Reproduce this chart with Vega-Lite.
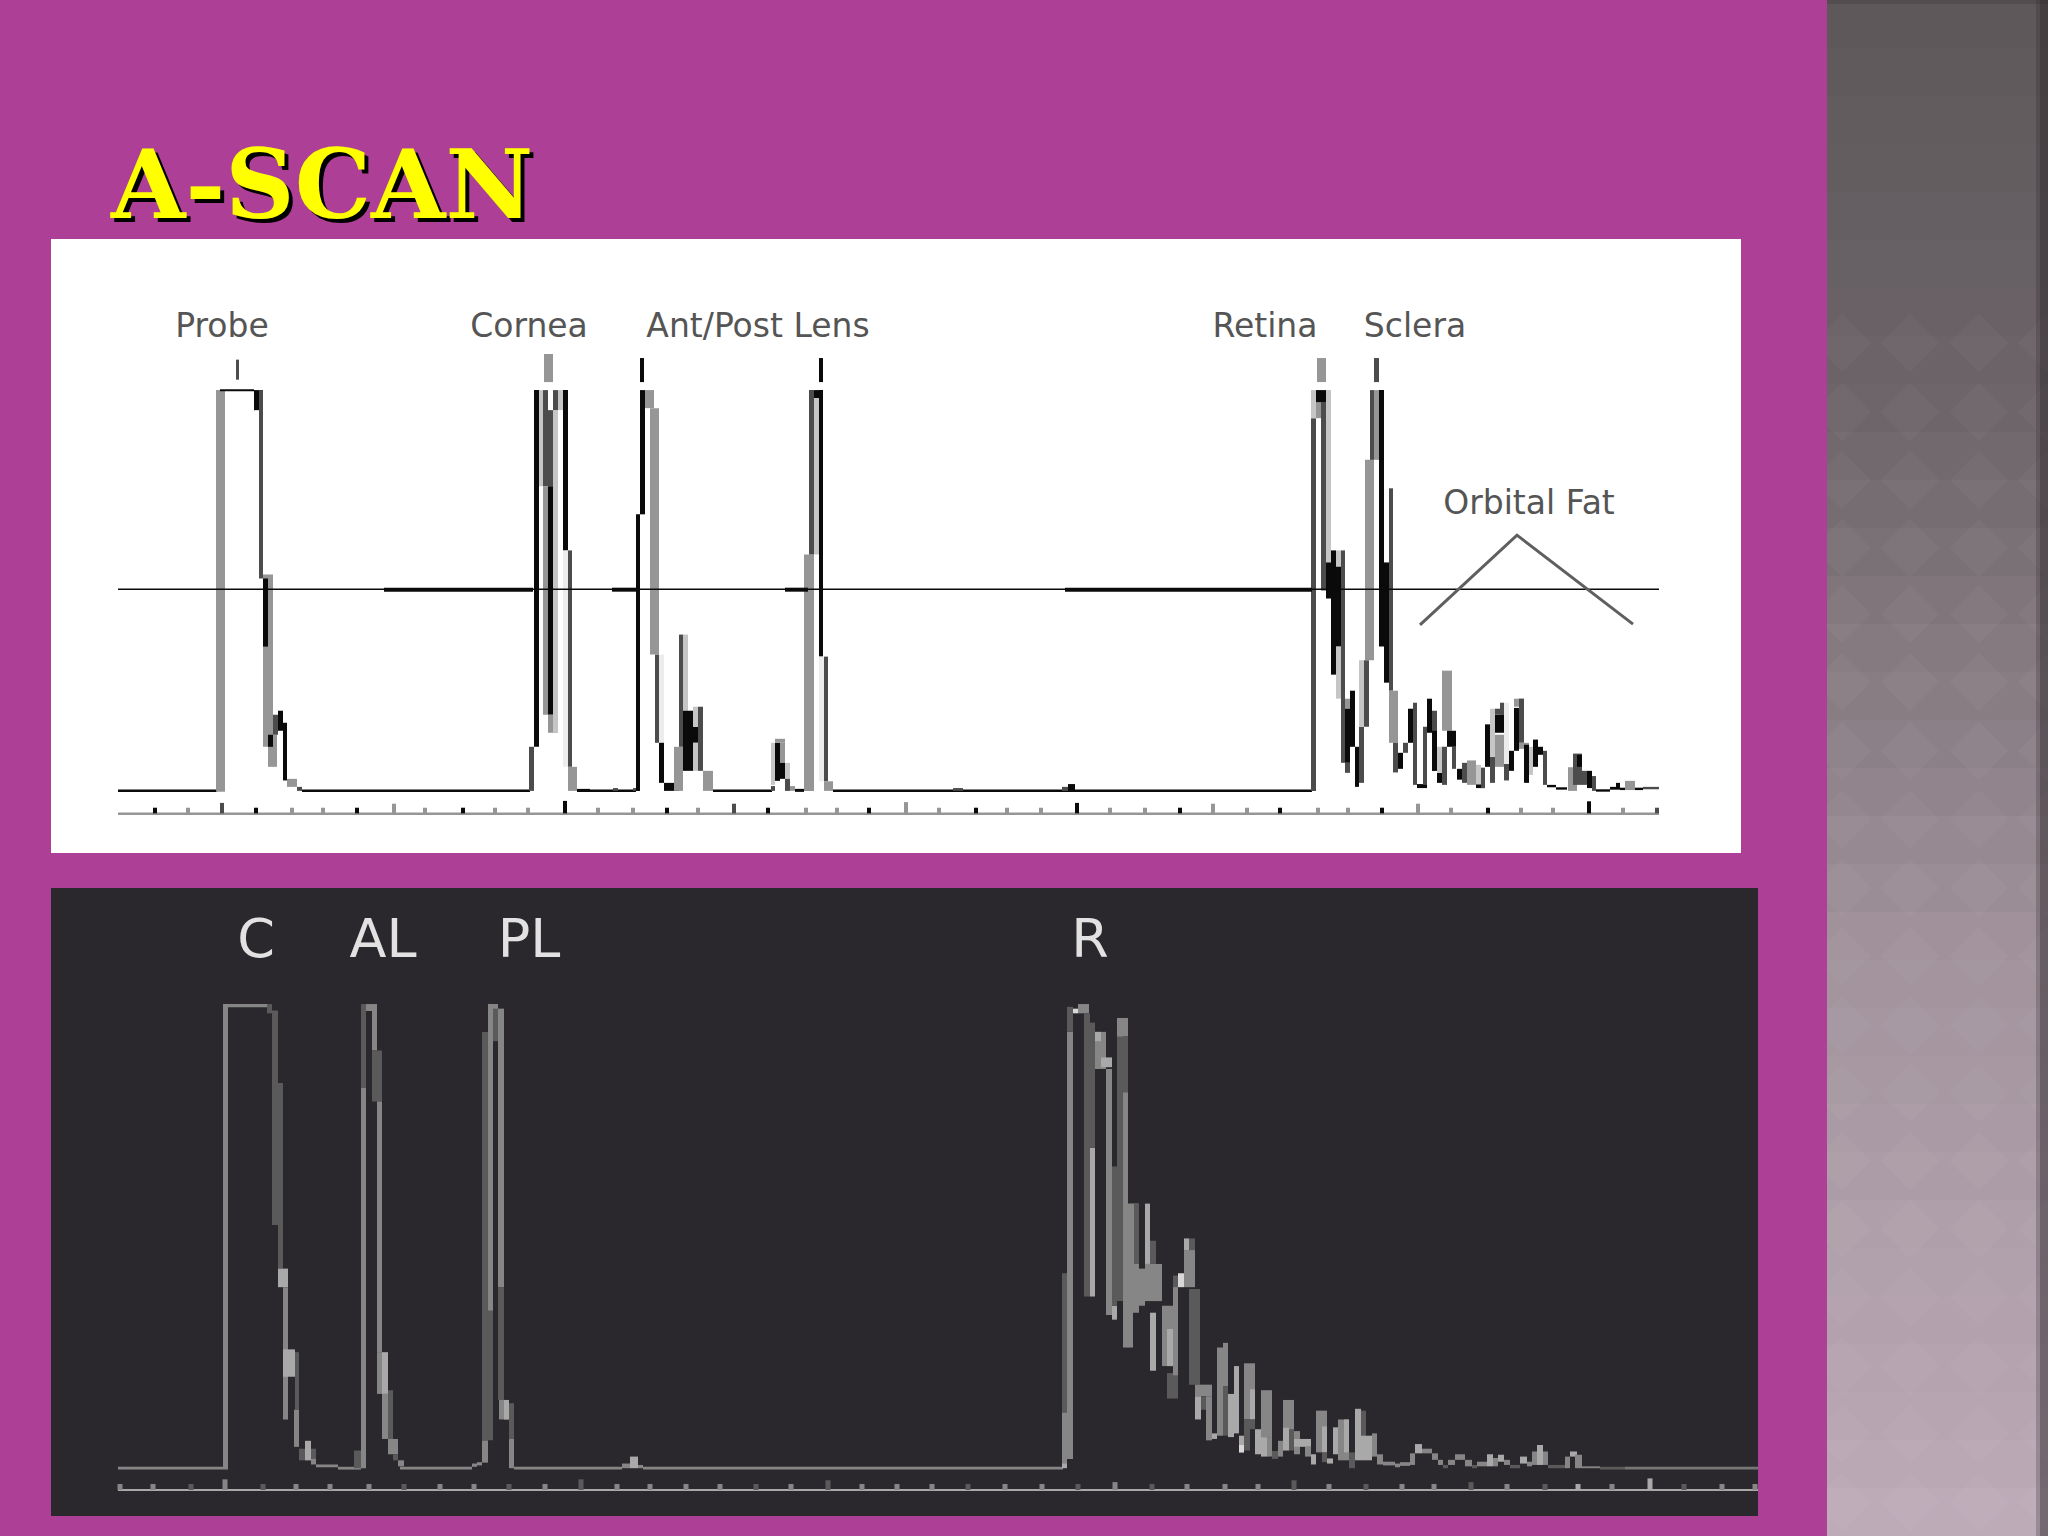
{
"$schema":"https://vega.github.io/schema/vega-lite/v6.json",
"background":"#ae3f96",
"padding":{"left":51,"top":0,"right":0,"bottom":0},
"config":{"view":{"stroke":null}},
"resolve":{"scale":{"color":"independent","opacity":"independent"}},
"spacing":69,
"hconcat":[
{"bounds":"flush","spacing":35,"resolve":{"scale":{"color":"independent"}},"vconcat":[
 {"width":1707,"height":204,"data":{"values":[{"x":111,"p":204,"t":"A-SCAN"}]},
  "encoding":{"x":{"field":"x","type":"quantitative","axis":null,"scale":{"domain":[51,1758],"nice":false,"zero":false}},
   "y":{"field":"p","type":"quantitative","axis":null,"scale":{"domain":[0,204],"reverse":true,"nice":false}},"text":{"field":"t"}},
  "layer":[
   {"mark":{"type":"text","font":"DejaVu Serif","fontWeight":"bold","fontSize":96,"align":"left","baseline":"alphabetic","dx":4,"dy":18,"color":"#000000"}},
   {"mark":{"type":"text","font":"DejaVu Serif","fontWeight":"bold","fontSize":96,"align":"left","baseline":"alphabetic","dy":14,"color":"#ffff00"}}
  ]},
 {"width":1690,"height":614,"view":{"fill":"#ffffff","stroke":null},
  "layer":[
   {"data":{"values":[
{"x":118,"x2":217,"a":-0.25,"a2":0.35,"s":"k"},{"x":302,"x2":530,"a":-0.25,"a2":0.35,"s":"k"},{"x":577,"x2":636,"a":-0.25,"a2":0.35,"s":"k"},{"x":613,"x2":618,"a":0,"a2":0.7,"s":"d"},{"x":633,"x2":637,"a":0,"a2":0.7,"s":"d"},{"x":713,"x2":772,"a":-0.25,"a2":0.35,"s":"k"},{"x":795,"x2":804,"a":-0.25,"a2":0.5,"s":"k"},{"x":833,"x2":1312,"a":-0.25,"a2":0.35,"s":"k"},{"x":953,"x2":963,"a":0,"a2":0.7,"s":"d"},{"x":1062,"x2":1070,"a":0,"a2":1,"s":"d"},{"x":1068,"x2":1075,"a":0,"a2":1.7,"s":"k"},
{"x":216,"x2":225,"a":-0.2,"a2":100,"s":"m"},{"x":220,"x2":254,"a":99.7,"a2":100.2,"s":"k"},{"x":254,"x2":263,"a":95,"a2":100,"s":"k"},{"x":259,"x2":263,"a":53,"a2":100,"s":"d"},{"x":263,"x2":273,"a":11,"a2":54,"s":"m"},{"x":263,"x2":268,"a":36,"a2":53,"s":"k"},{"x":268,"x2":277,"a":6,"a2":14,"s":"m"},{"x":268,"x2":273,"a":11,"a2":14,"s":"k"},{"x":273,"x2":278,"a":14,"a2":19,"s":"d"},{"x":278,"x2":283,"a":15,"a2":20,"s":"k"},{"x":283,"x2":287,"a":2.6,"a2":17,"s":"k"},{"x":287,"x2":297,"a":1,"a2":3,"s":"m"},{"x":297,"x2":302,"a":0,"a2":1,"s":"d"},
{"x":529,"x2":534,"a":0,"a2":11,"s":"d"},{"x":534,"x2":539,"a":11,"a2":100,"s":"k"},{"x":539,"x2":543,"a":76,"a2":100,"s":"l"},{"x":543,"x2":548,"a":76,"a2":100,"s":"d"},{"x":543,"x2":548,"a":19,"a2":76,"s":"m"},{"x":548,"x2":553,"a":76,"a2":95,"s":"d"},{"x":548,"x2":553,"a":19,"a2":76,"s":"k"},{"x":548,"x2":558,"a":14.5,"a2":19,"s":"m"},{"x":553,"x2":558,"a":14.5,"a2":95,"s":"l"},{"x":553,"x2":558,"a":95,"a2":100,"s":"d"},{"x":558,"x2":563,"a":95,"a2":100,"s":"l"},{"x":563,"x2":568,"a":60,"a2":100,"s":"k"},{"x":563,"x2":568,"a":6,"a2":60,"s":"p"},{"x":568,"x2":572,"a":6,"a2":60,"s":"d"},{"x":568,"x2":577,"a":0,"a2":6,"s":"m"},{"x":577,"x2":590,"a":0,"a2":0.5,"s":"k"},
{"x":636,"x2":640,"a":0,"a2":69,"s":"k"},{"x":640,"x2":645,"a":69,"a2":100,"s":"k"},{"x":645,"x2":654,"a":95.5,"a2":100,"s":"m"},{"x":650,"x2":659,"a":34,"a2":95.5,"s":"m"},{"x":655,"x2":659,"a":12,"a2":34,"s":"d"},{"x":659,"x2":664,"a":12,"a2":34,"s":"p"},{"x":659,"x2":664,"a":2,"a2":12,"s":"k"},{"x":664,"x2":679,"a":0,"a2":2,"s":"k"},{"x":674,"x2":683,"a":0,"a2":11,"s":"m"},{"x":679,"x2":683,"a":11,"a2":39,"s":"d"},{"x":683,"x2":688,"a":20,"a2":39,"s":"l"},{"x":683,"x2":693,"a":5,"a2":20,"s":"k"},{"x":693,"x2":698,"a":12,"a2":16,"s":"k"},{"x":693,"x2":698,"a":16,"a2":21,"s":"l"},{"x":693,"x2":698,"a":5,"a2":12,"s":"l"},{"x":698,"x2":703,"a":5,"a2":21,"s":"d"},{"x":703,"x2":713,"a":0,"a2":5,"s":"m"},
{"x":771,"x2":775,"a":0,"a2":1.2,"s":"d"},{"x":771,"x2":775,"a":1.5,"a2":12,"s":"l"},{"x":775,"x2":780,"a":2.5,"a2":12,"s":"k"},{"x":775,"x2":785,"a":12,"a2":13,"s":"m"},{"x":780,"x2":785,"a":7,"a2":12,"s":"m"},{"x":780,"x2":785,"a":3,"a2":7,"s":"k"},{"x":785,"x2":790,"a":3,"a2":7,"s":"l"},{"x":785,"x2":790,"a":0,"a2":3,"s":"d"},{"x":790,"x2":795,"a":0,"a2":1.2,"s":"m"},
{"x":804,"x2":814,"a":0,"a2":59,"s":"m"},{"x":809,"x2":814,"a":59,"a2":100,"s":"d"},{"x":814,"x2":819,"a":98,"a2":100,"s":"k"},{"x":814,"x2":819,"a":59,"a2":98,"s":"l"},{"x":819,"x2":823,"a":33.5,"a2":100,"s":"k"},{"x":819,"x2":824,"a":2.4,"a2":33.5,"s":"p"},{"x":824,"x2":828,"a":2.4,"a2":33.5,"s":"d"},{"x":824,"x2":833,"a":0,"a2":2.4,"s":"m"},
{"x":1311,"x2":1316,"a":0,"a2":93,"s":"d"},{"x":1311,"x2":1316,"a":93,"a2":100,"s":"l"},{"x":1316,"x2":1321,"a":93,"a2":100,"s":"m"},{"x":1316,"x2":1326,"a":97,"a2":100,"s":"k"},{"x":1321,"x2":1326,"a":50,"a2":97,"s":"d"},{"x":1326,"x2":1331,"a":57,"a2":100,"s":"l"},{"x":1326,"x2":1331,"a":48,"a2":57,"s":"k"},{"x":1331,"x2":1336,"a":29,"a2":60,"s":"k"},{"x":1336,"x2":1341,"a":36,"a2":56,"s":"k"},{"x":1336,"x2":1341,"a":56,"a2":60,"s":"l"},{"x":1336,"x2":1341,"a":23,"a2":36,"s":"l"},{"x":1341,"x2":1345,"a":7,"a2":60,"s":"d"},{"x":1345,"x2":1350,"a":20.5,"a2":23,"s":"m"},{"x":1345,"x2":1350,"a":7,"a2":20.5,"s":"k"},{"x":1345,"x2":1350,"a":4.5,"a2":7,"s":"d"},{"x":1350,"x2":1355,"a":11,"a2":25,"s":"k"},{"x":1355,"x2":1359,"a":1,"a2":11,"s":"k"},{"x":1359,"x2":1364,"a":2,"a2":16,"s":"d"},{"x":1359,"x2":1364,"a":16,"a2":32.6,"s":"l"},{"x":1364,"x2":1369,"a":16,"a2":32.6,"s":"d"},{"x":1365,"x2":1374,"a":32.6,"a2":82.6,"s":"m"},{"x":1370,"x2":1374,"a":82.6,"a2":100,"s":"d"},{"x":1374,"x2":1379,"a":82.6,"a2":100,"s":"m"},{"x":1379,"x2":1384,"a":36,"a2":100,"s":"k"},{"x":1384,"x2":1389,"a":27,"a2":57,"s":"k"},{"x":1389,"x2":1393,"a":25,"a2":75.5,"s":"d"},{"x":1389,"x2":1398,"a":12,"a2":25,"s":"m"},{"x":1393,"x2":1398,"a":4.6,"a2":12,"s":"d"},{"x":1398,"x2":1403,"a":5.5,"a2":9.5,"s":"k"},{"x":1403,"x2":1408,"a":9.5,"a2":12,"s":"d"},{"x":1408,"x2":1413,"a":12,"a2":20.5,"s":"k"},{"x":1413,"x2":1417,"a":1.5,"a2":22,"s":"d"},{"x":1417,"x2":1427,"a":0.7,"a2":1.7,"s":"k"},{"x":1423,"x2":1427,"a":1.5,"a2":16,"s":"d"},{"x":1427,"x2":1432,"a":14.5,"a2":23,"s":"k"},{"x":1432,"x2":1437,"a":5,"a2":20,"s":"d"},{"x":1432,"x2":1437,"a":5,"a2":15,"s":"k"},{"x":1437,"x2":1442,"a":2,"a2":4.5,"s":"k"},{"x":1437,"x2":1447,"a":4.5,"a2":11,"s":"l"},{"x":1442,"x2":1447,"a":1.5,"a2":11,"s":"d"},{"x":1442,"x2":1452,"a":15,"a2":30,"s":"m"},{"x":1447,"x2":1456,"a":11,"a2":15,"s":"k"},{"x":1452,"x2":1456,"a":5.5,"a2":11,"s":"d"},{"x":1457,"x2":1462,"a":2.8,"a2":5.5,"s":"k"},{"x":1462,"x2":1467,"a":2,"a2":7,"s":"d"},{"x":1467,"x2":1476,"a":1.5,"a2":7.6,"s":"m"},{"x":1476,"x2":1481,"a":1.5,"a2":6.5,"s":"l"},{"x":1476,"x2":1485,"a":0.7,"a2":1.6,"s":"k"},{"x":1481,"x2":1485,"a":0.7,"a2":5.8,"s":"d"},{"x":1485,"x2":1490,"a":6,"a2":16.6,"s":"k"},{"x":1490,"x2":1495,"a":2,"a2":8.5,"s":"d"},{"x":1490,"x2":1495,"a":8.5,"a2":20.5,"s":"l"},{"x":1495,"x2":1504,"a":6,"a2":14,"s":"m"},{"x":1495,"x2":1504,"a":14.5,"a2":19,"s":"k"},{"x":1495,"x2":1504,"a":19,"a2":20.5,"s":"d"},{"x":1500,"x2":1504,"a":19,"a2":22,"s":"d"},{"x":1504,"x2":1509,"a":6.7,"a2":22,"s":"p"},{"x":1504,"x2":1509,"a":2.6,"a2":6.7,"s":"d"},{"x":1509,"x2":1514,"a":5,"a2":10,"s":"k"},{"x":1514,"x2":1519,"a":10,"a2":20.7,"s":"k"},{"x":1514,"x2":1524,"a":21,"a2":23,"s":"m"},{"x":1519,"x2":1524,"a":12,"a2":23,"s":"d"},{"x":1519,"x2":1529,"a":10.5,"a2":12,"s":"m"},{"x":1524,"x2":1529,"a":2,"a2":11.5,"s":"k"},{"x":1529,"x2":1533,"a":4,"a2":11,"s":"l"},{"x":1533,"x2":1538,"a":6,"a2":12.8,"s":"k"},{"x":1538,"x2":1543,"a":9,"a2":11,"s":"k"},{"x":1543,"x2":1547,"a":1.5,"a2":10,"s":"d"},{"x":1547,"x2":1556,"a":0.9,"a2":1.5,"s":"k"},{"x":1556,"x2":1567,"a":0.3,"a2":0.9,"s":"k"},{"x":1568,"x2":1577,"a":0,"a2":5.9,"s":"m"},{"x":1573,"x2":1582,"a":1.5,"a2":9.3,"s":"d"},{"x":1577,"x2":1582,"a":6,"a2":9,"s":"k"},{"x":1582,"x2":1587,"a":1.5,"a2":5,"s":"d"},{"x":1587,"x2":1592,"a":0.7,"a2":5,"s":"k"},{"x":1592,"x2":1596,"a":0,"a2":3.7,"s":"d"},{"x":1596,"x2":1610,"a":-0.2,"a2":0.4,"s":"k"},{"x":1610,"x2":1616,"a":0.3,"a2":1,"s":"k"},{"x":1616,"x2":1620,"a":0.3,"a2":2,"s":"k"},{"x":1620,"x2":1625,"a":0.2,"a2":0.8,"s":"k"},{"x":1625,"x2":1635,"a":0.2,"a2":2.5,"s":"m"},{"x":1635,"x2":1643,"a":0.2,"a2":0.8,"s":"k"},{"x":1643,"x2":1659,"a":0.4,"a2":1,"s":"d"},
{"x":236,"x2":239,"a":102.6,"a2":107.6,"s":"d"},{"x":544,"x2":553,"a":102,"a2":109,"s":"m"},{"x":640,"x2":644,"a":102,"a2":108,"s":"k"},{"x":819,"x2":823,"a":102,"a2":108,"s":"k"},{"x":1317,"x2":1326,"a":102,"a2":108,"s":"m"},{"x":1374,"x2":1379,"a":102,"a2":108,"s":"d"},
{"x":118,"x2":1659,"a":50.1,"a2":50.5,"s":"k"},{"x":384,"x2":533,"a":49.7,"a2":50.7,"s":"k"},{"x":612,"x2":636,"a":49.7,"a2":50.7,"s":"k"},{"x":785,"x2":808,"a":49.7,"a2":50.7,"s":"k"},{"x":1065,"x2":1312,"a":49.7,"a2":50.7,"s":"k"},
{"x":118,"x2":1659,"a":-6,"a2":-5.4,"s":"m"}
]},"mark":{"type":"rect","strokeWidth":0},
"encoding":{"x":{"field":"x","type":"quantitative","axis":null,"scale":{"domain":[51,1741],"nice":false,"zero":false}},"x2":{"field":"x2"},
"y":{"field":"a","type":"quantitative","axis":null,"scale":{"domain":[-15.5,137.7],"nice":false,"zero":false}},"y2":{"field":"a2"},
"color":{"field":"s","type":"nominal","legend":null,"scale":{"domain":["k","d","m","l","p"],"range":["#0a0a0a","#4c4c4c","#969696","#c6c6c6","#ececec"]}}}},
   {"data":{"values":[
{"x":155,"b":-5.6,"a":-4.2,"s":"k"},{"x":188,"b":-5.6,"a":-4.2,"s":"m"},{"x":222,"b":-5.6,"a":-3,"s":"d"},{"x":256,"b":-5.6,"a":-4.2,"s":"k"},{"x":292,"b":-5.6,"a":-4.2,"s":"m"},{"x":323,"b":-5.6,"a":-4.2,"s":"m"},{"x":357,"b":-5.6,"a":-4.2,"s":"k"},{"x":394,"b":-5.6,"a":-3.2,"s":"m"},{"x":425,"b":-5.6,"a":-4.2,"s":"m"},{"x":463,"b":-5.6,"a":-4.2,"s":"k"},{"x":495,"b":-5.6,"a":-4.2,"s":"m"},{"x":528,"b":-5.6,"a":-4.2,"s":"m"},{"x":565,"b":-5.6,"a":-2.5,"s":"k"},{"x":598,"b":-5.6,"a":-4.2,"s":"m"},{"x":633,"b":-5.6,"a":-4.2,"s":"m"},{"x":667,"b":-5.6,"a":-4.2,"s":"k"},{"x":698,"b":-5.6,"a":-4.2,"s":"m"},{"x":734,"b":-5.6,"a":-3.2,"s":"d"},{"x":768,"b":-5.6,"a":-4.2,"s":"k"},{"x":806,"b":-5.6,"a":-4.2,"s":"m"},{"x":837,"b":-5.6,"a":-4.2,"s":"m"},{"x":869,"b":-5.6,"a":-4.2,"s":"k"},{"x":906,"b":-5.6,"a":-2.8,"s":"m"},{"x":939,"b":-5.6,"a":-4.2,"s":"m"},{"x":976,"b":-5.6,"a":-4.2,"s":"k"},{"x":1007,"b":-5.6,"a":-4.2,"s":"m"},{"x":1041,"b":-5.6,"a":-4.2,"s":"m"},{"x":1077,"b":-5.6,"a":-3,"s":"k"},{"x":1110,"b":-5.6,"a":-4.2,"s":"m"},{"x":1145,"b":-5.6,"a":-4.2,"s":"m"},{"x":1180,"b":-5.6,"a":-4.2,"s":"k"},{"x":1213,"b":-5.6,"a":-3.2,"s":"m"},{"x":1247,"b":-5.6,"a":-4.2,"s":"m"},{"x":1280,"b":-5.6,"a":-4.2,"s":"k"},{"x":1318,"b":-5.6,"a":-4.2,"s":"m"},{"x":1348,"b":-5.6,"a":-4.2,"s":"m"},{"x":1382,"b":-5.6,"a":-4.2,"s":"k"},{"x":1418,"b":-5.6,"a":-3.2,"s":"m"},{"x":1451,"b":-5.6,"a":-4.2,"s":"m"},{"x":1488,"b":-5.6,"a":-4.2,"s":"k"},{"x":1521,"b":-5.6,"a":-4.2,"s":"m"},{"x":1553,"b":-5.6,"a":-4.2,"s":"m"},{"x":1589,"b":-5.6,"a":-2.6,"s":"k"},{"x":1623,"b":-5.6,"a":-4.2,"s":"m"},{"x":1657,"b":-5.6,"a":-4.2,"s":"d"}
]},"mark":{"type":"rule","strokeWidth":4},
"encoding":{"x":{"field":"x","type":"quantitative"},"y":{"field":"b","type":"quantitative"},"y2":{"field":"a"},"color":{"field":"s","type":"nominal","legend":null}}},
   {"data":{"values":[{"x":1420,"a":41.4},{"x":1517,"a":63.8},{"x":1633,"a":41.6}]},"mark":{"type":"line","color":"#5f5f5f","strokeWidth":3},
"encoding":{"x":{"field":"x","type":"quantitative"},"y":{"field":"a","type":"quantitative"}}},
   {"data":{"values":[{"x":222,"a":115.7,"t":"Probe"},{"x":529,"a":115.7,"t":"Cornea"},{"x":758,"a":115.7,"t":"Ant/Post Lens"},{"x":1265,"a":115.7,"t":"Retina"},{"x":1415,"a":115.7,"t":"Sclera"},{"x":1529,"a":71.6,"t":"Orbital Fat"}]},
"mark":{"type":"text","font":"DejaVu Sans","fontSize":33,"align":"center","baseline":"middle","color":"#555555"},
"encoding":{"x":{"field":"x","type":"quantitative"},"y":{"field":"a","type":"quantitative"},"text":{"field":"t"}}}
  ]},
 {"width":1707,"height":628,"view":{"fill":"#2a282c","stroke":null},
  "layer":[
   {"data":{"values":[
{"x":118,"x2":223,"a":-0.3,"a2":0.3,"s":"m"},{"x":223,"x2":228,"a":-0.3,"a2":100,"s":"m"},{"x":228,"x2":268,"a":99.3,"a2":100,"s":"m"},{"x":267,"x2":272,"a":98,"a2":100,"s":"d"},{"x":272,"x2":278,"a":52.4,"a2":98.6,"s":"d"},{"x":278,"x2":283,"a":43,"a2":83,"s":"d"},{"x":278,"x2":288,"a":39,"a2":43,"s":"l"},{"x":283,"x2":288,"a":10.5,"a2":39,"s":"m"},{"x":283,"x2":295,"a":19.7,"a2":25.6,"s":"l"},{"x":295,"x2":299,"a":12.6,"a2":25,"s":"d"},{"x":294,"x2":299,"a":4.6,"a2":12.6,"s":"m"},{"x":299,"x2":316,"a":1.7,"a2":4.2,"s":"d"},{"x":305,"x2":311,"a":1.7,"a2":5.9,"s":"l"},{"x":311,"x2":316,"a":0.8,"a2":2,"s":"m"},{"x":316,"x2":338,"a":0.2,"a2":0.8,"s":"m"},{"x":338,"x2":361,"a":-0.3,"a2":0.3,"s":"m"},
{"x":354,"x2":361,"a":0,"a2":3.8,"s":"d"},{"x":361,"x2":366,"a":0,"a2":82,"s":"m"},{"x":361,"x2":366,"a":82,"a2":100,"s":"d"},{"x":366,"x2":377,"a":98.5,"a2":100,"s":"m"},{"x":372,"x2":377,"a":90,"a2":99,"s":"m"},{"x":372,"x2":382,"a":79,"a2":90,"s":"d"},{"x":377,"x2":382,"a":25,"a2":79,"s":"m"},{"x":377,"x2":382,"a":16,"a2":25,"s":"m"},{"x":382,"x2":388,"a":16,"a2":25,"s":"l"},{"x":382,"x2":388,"a":6.3,"a2":16,"s":"m"},{"x":388,"x2":393,"a":4.2,"a2":16.8,"s":"d"},{"x":388,"x2":398,"a":3,"a2":6.3,"s":"m"},{"x":393,"x2":398,"a":1.7,"a2":3,"s":"d"},{"x":398,"x2":404,"a":0.4,"a2":1.7,"s":"m"},{"x":400,"x2":472,"a":-0.3,"a2":0.3,"s":"m"},{"x":472,"x2":477,"a":0.3,"a2":1,"s":"m"},{"x":477,"x2":482,"a":0.6,"a2":1.3,"s":"m"},
{"x":482,"x2":488,"a":1.2,"a2":6,"s":"m"},{"x":482,"x2":493,"a":6,"a2":94,"s":"d"},{"x":488,"x2":493,"a":34,"a2":100,"s":"m"},{"x":493,"x2":498,"a":98.5,"a2":100,"s":"m"},{"x":493,"x2":504,"a":92,"a2":99,"s":"d"},{"x":498,"x2":504,"a":39,"a2":99,"s":"m"},{"x":498,"x2":504,"a":14.7,"a2":39,"s":"d"},{"x":499,"x2":509,"a":10.5,"a2":14.7,"s":"m"},{"x":504,"x2":509,"a":10.5,"a2":14.7,"s":"l"},{"x":509,"x2":514,"a":6.3,"a2":14,"s":"d"},{"x":509,"x2":514,"a":0,"a2":6.3,"s":"m"},{"x":514,"x2":622,"a":-0.3,"a2":0.3,"s":"m"},{"x":622,"x2":630,"a":0,"a2":1,"s":"m"},{"x":630,"x2":638,"a":0,"a2":2.5,"s":"l"},{"x":638,"x2":643,"a":0,"a2":0.7,"s":"m"},{"x":643,"x2":1063,"a":-0.3,"a2":0.3,"s":"m"},
{"x":1062,"x2":1067,"a":12,"a2":42,"s":"d"},{"x":1062,"x2":1067,"a":0.8,"a2":12,"s":"m"},{"x":1062,"x2":1067,"a":0,"a2":1,"s":"l"},{"x":1067,"x2":1073,"a":2,"a2":94,"s":"m"},{"x":1067,"x2":1073,"a":94,"a2":99.4,"s":"d"},{"x":1073,"x2":1078,"a":98,"a2":99,"s":"w"},{"x":1078,"x2":1089,"a":98,"a2":100,"s":"m"},{"x":1084,"x2":1090,"a":37,"a2":98,"s":"d"},{"x":1090,"x2":1095,"a":37,"a2":69,"s":"l"},{"x":1090,"x2":1095,"a":69,"a2":96,"s":"d"},{"x":1095,"x2":1106,"a":86,"a2":94,"s":"m"},{"x":1095,"x2":1101,"a":92,"a2":94,"s":"l"},{"x":1101,"x2":1112,"a":86.4,"a2":88.5,"s":"l"},{"x":1106,"x2":1112,"a":33,"a2":86,"s":"m"},{"x":1112,"x2":1117,"a":32,"a2":35,"s":"l"},{"x":1112,"x2":1117,"a":35,"a2":65,"s":"d"},{"x":1117,"x2":1123,"a":36,"a2":97,"s":"d"},{"x":1117,"x2":1128,"a":93,"a2":97,"s":"m"},{"x":1123,"x2":1128,"a":81,"a2":93,"s":"d"},{"x":1123,"x2":1128,"a":41.5,"a2":81,"s":"m"},{"x":1123,"x2":1133,"a":26,"a2":43,"s":"m"},{"x":1128,"x2":1139,"a":33.5,"a2":57,"s":"m"},{"x":1134,"x2":1139,"a":44,"a2":57,"s":"d"},{"x":1139,"x2":1145,"a":35,"a2":43,"s":"m"},{"x":1145,"x2":1150,"a":44,"a2":57,"s":"l"},{"x":1150,"x2":1156,"a":44,"a2":49,"s":"d"},{"x":1145,"x2":1162,"a":36,"a2":44,"s":"m"},{"x":1150,"x2":1156,"a":21,"a2":33.5,"s":"l"},{"x":1162,"x2":1173,"a":22,"a2":35,"s":"m"},{"x":1167,"x2":1178,"a":22,"a2":30,"s":"l"},{"x":1167,"x2":1178,"a":15,"a2":20.5,"s":"d"},{"x":1173,"x2":1178,"a":35,"a2":41.5,"s":"d"},{"x":1173,"x2":1178,"a":20,"a2":39,"s":"m"},{"x":1178,"x2":1184,"a":39,"a2":42,"s":"w"},{"x":1184,"x2":1195,"a":39,"a2":47,"s":"m"},{"x":1184,"x2":1189,"a":47,"a2":49.5,"s":"l"},{"x":1189,"x2":1195,"a":47,"a2":49.5,"s":"d"},{"x":1189,"x2":1200,"a":18,"a2":38.6,"s":"d"},{"x":1195,"x2":1212,"a":15.5,"a2":18,"s":"m"},{"x":1195,"x2":1201,"a":10.5,"a2":15.5,"s":"l"},{"x":1201,"x2":1206,"a":12.6,"a2":15.5,"s":"d"},{"x":1206,"x2":1212,"a":6,"a2":15.5,"s":"m"},{"x":1212,"x2":1217,"a":6.3,"a2":7.5,"s":"l"},{"x":1217,"x2":1223,"a":7,"a2":26,"s":"m"},{"x":1223,"x2":1228,"a":17.6,"a2":27,"s":"m"},{"x":1223,"x2":1228,"a":7,"a2":17.6,"s":"d"},{"x":1228,"x2":1234,"a":6.7,"a2":16,"s":"l"},{"x":1234,"x2":1239,"a":7.5,"a2":22,"s":"l"},{"x":1239,"x2":1244,"a":3.4,"a2":7,"s":"l"},{"x":1239,"x2":1244,"a":3.4,"a2":5,"s":"w"},{"x":1244,"x2":1255,"a":10.5,"a2":22.6,"s":"m"},{"x":1250,"x2":1255,"a":10.5,"a2":17,"s":"l"},{"x":1244,"x2":1250,"a":3.8,"a2":10.5,"s":"d"},{"x":1250,"x2":1255,"a":8.4,"a2":10.5,"s":"d"},{"x":1255,"x2":1261,"a":3,"a2":8.4,"s":"l"},{"x":1261,"x2":1267,"a":2.5,"a2":6.7,"s":"l"},{"x":1261,"x2":1272,"a":6.7,"a2":16.8,"s":"m"},{"x":1267,"x2":1272,"a":2.5,"a2":6.7,"s":"m"},{"x":1272,"x2":1278,"a":2,"a2":3.7,"s":"d"},{"x":1278,"x2":1283,"a":2.5,"a2":5.9,"s":"m"},{"x":1283,"x2":1294,"a":8,"a2":14.7,"s":"m"},{"x":1283,"x2":1289,"a":3.8,"a2":8.7,"s":"l"},{"x":1289,"x2":1294,"a":3.8,"a2":8.4,"s":"d"},{"x":1294,"x2":1300,"a":3,"a2":8,"s":"m"},{"x":1294,"x2":1311,"a":4.6,"a2":6.3,"s":"l"},{"x":1305,"x2":1311,"a":2.5,"a2":4.6,"s":"m"},{"x":1311,"x2":1316,"a":0.8,"a2":3,"s":"l"},{"x":1316,"x2":1327,"a":3.4,"a2":12.4,"s":"m"},{"x":1322,"x2":1327,"a":3.4,"a2":9,"s":"l"},{"x":1322,"x2":1327,"a":1.3,"a2":3.4,"s":"d"},{"x":1327,"x2":1333,"a":1,"a2":2.1,"s":"l"},{"x":1333,"x2":1338,"a":3,"a2":8.8,"s":"l"},{"x":1338,"x2":1349,"a":1.7,"a2":10.5,"s":"m"},{"x":1344,"x2":1349,"a":3.4,"a2":10.5,"s":"l"},{"x":1349,"x2":1355,"a":0,"a2":3.4,"s":"d"},{"x":1355,"x2":1361,"a":1.7,"a2":12.8,"s":"l"},{"x":1361,"x2":1366,"a":3.4,"a2":12.4,"s":"d"},{"x":1361,"x2":1372,"a":1.7,"a2":7,"s":"l"},{"x":1372,"x2":1377,"a":2.5,"a2":7.5,"s":"m"},{"x":1377,"x2":1383,"a":0.8,"a2":3,"s":"m"},{"x":1383,"x2":1395,"a":0.6,"a2":1.4,"s":"m"},{"x":1395,"x2":1400,"a":0.2,"a2":1,"s":"m"},{"x":1400,"x2":1410,"a":0.5,"a2":1.3,"s":"m"},
{"x":1410,"x2":1415,"a":0.7,"a2":3.2,"s":"m"},{"x":1415,"x2":1422,"a":3.2,"a2":5.2,"s":"l"},{"x":1422,"x2":1432,"a":3.2,"a2":4.2,"s":"m"},{"x":1432,"x2":1438,"a":1.8,"a2":3.2,"s":"m"},{"x":1438,"x2":1443,"a":0.7,"a2":1.8,"s":"m"},{"x":1443,"x2":1448,"a":0,"a2":0.7,"s":"d"},{"x":1448,"x2":1455,"a":0.7,"a2":1.8,"s":"m"},{"x":1455,"x2":1465,"a":1.8,"a2":3,"s":"m"},{"x":1465,"x2":1472,"a":0.4,"a2":1.8,"s":"m"},{"x":1472,"x2":1477,"a":0,"a2":0.7,"s":"d"},{"x":1477,"x2":1487,"a":0.4,"a2":1.4,"s":"m"},{"x":1487,"x2":1493,"a":0.4,"a2":3,"s":"l"},{"x":1493,"x2":1498,"a":0.4,"a2":2.2,"s":"m"},{"x":1498,"x2":1504,"a":1.4,"a2":2.9,"s":"l"},{"x":1504,"x2":1510,"a":0.7,"a2":1.8,"s":"m"},{"x":1510,"x2":1520,"a":0,"a2":0.7,"s":"d"},{"x":1520,"x2":1527,"a":1,"a2":2.5,"s":"l"},{"x":1527,"x2":1532,"a":0.4,"a2":1.4,"s":"m"},{"x":1532,"x2":1537,"a":0.7,"a2":3.6,"s":"m"},{"x":1537,"x2":1543,"a":0.7,"a2":5,"s":"l"},{"x":1543,"x2":1548,"a":0.7,"a2":3.6,"s":"m"},{"x":1548,"x2":1565,"a":0,"a2":0.7,"s":"d"},{"x":1565,"x2":1570,"a":0,"a2":2.5,"s":"m"},{"x":1570,"x2":1577,"a":2.5,"a2":3.6,"s":"l"},{"x":1575,"x2":1582,"a":0,"a2":2.9,"s":"m"},{"x":1582,"x2":1600,"a":0,"a2":0.4,"s":"m"},{"x":1600,"x2":1625,"a":-0.3,"a2":0.3,"s":"d"},{"x":1625,"x2":1758,"a":-0.3,"a2":0.3,"s":"b"},
{"x":118,"x2":1758,"a":-4.9,"a2":-4.5,"s":"l"}
]},"mark":{"type":"rect","strokeWidth":0},
"encoding":{"x":{"field":"x","type":"quantitative","axis":null,"scale":{"domain":[51,1758],"nice":false,"zero":false}},"x2":{"field":"x2"},
"y":{"field":"a","type":"quantitative","axis":null,"scale":{"domain":[-10.3,125],"nice":false,"zero":false}},"y2":{"field":"a2"},
"color":{"field":"s","type":"nominal","legend":null,"scale":{"domain":["d","b","m","l","w"],"range":["#5a5a5a","#777777","#868686","#a9a9a9","#d8d8d8"]}}}},
   {"data":{"values":[
{"x":120,"b":-4.7,"a":-3.4,"s":"m"},{"x":153,"b":-4.7,"a":-3.4,"s":"m"},{"x":191,"b":-4.7,"a":-3.4,"s":"d"},{"x":225,"b":-4.7,"a":-2.4,"s":"m"},{"x":263,"b":-4.7,"a":-3.4,"s":"d"},{"x":296,"b":-4.7,"a":-3.4,"s":"m"},{"x":330,"b":-4.7,"a":-3.4,"s":"m"},{"x":369,"b":-4.7,"a":-3.4,"s":"m"},{"x":404,"b":-4.7,"a":-3.4,"s":"d"},{"x":440,"b":-4.7,"a":-3.4,"s":"m"},{"x":474,"b":-4.7,"a":-3.4,"s":"m"},{"x":509,"b":-4.7,"a":-3.4,"s":"d"},{"x":545,"b":-4.7,"a":-3.4,"s":"m"},{"x":581,"b":-4.7,"a":-2.4,"s":"d"},{"x":617,"b":-4.7,"a":-3.4,"s":"m"},{"x":650,"b":-4.7,"a":-3.4,"s":"m"},{"x":686,"b":-4.7,"a":-3.4,"s":"m"},{"x":720,"b":-4.7,"a":-3.4,"s":"m"},{"x":756,"b":-4.7,"a":-3.4,"s":"d"},{"x":791,"b":-4.7,"a":-3.4,"s":"m"},{"x":828,"b":-4.7,"a":-2.6,"s":"d"},{"x":862,"b":-4.7,"a":-3.4,"s":"m"},{"x":897,"b":-4.7,"a":-3.4,"s":"m"},{"x":932,"b":-4.7,"a":-3.4,"s":"m"},{"x":968,"b":-4.7,"a":-3.4,"s":"d"},{"x":1005,"b":-4.7,"a":-3.4,"s":"m"},{"x":1042,"b":-4.7,"a":-3.4,"s":"m"},{"x":1078,"b":-4.7,"a":-3.4,"s":"d"},{"x":1115,"b":-4.7,"a":-3,"s":"m"},{"x":1152,"b":-4.7,"a":-3.4,"s":"d"},{"x":1187,"b":-4.7,"a":-3.4,"s":"m"},{"x":1225,"b":-4.7,"a":-3.4,"s":"m"},{"x":1258,"b":-4.7,"a":-3.4,"s":"m"},{"x":1294,"b":-4.7,"a":-2.6,"s":"d"},{"x":1329,"b":-4.7,"a":-3.4,"s":"m"},{"x":1366,"b":-4.7,"a":-3.4,"s":"d"},{"x":1402,"b":-4.7,"a":-3.4,"s":"m"},{"x":1434,"b":-4.7,"a":-3.4,"s":"m"},{"x":1471,"b":-4.7,"a":-3,"s":"d"},{"x":1507,"b":-4.7,"a":-3.4,"s":"m"},{"x":1545,"b":-4.7,"a":-3.4,"s":"d"},{"x":1578,"b":-4.7,"a":-3.4,"s":"l"},{"x":1612,"b":-4.7,"a":-3.4,"s":"m"},{"x":1650,"b":-4.7,"a":-2.2,"s":"l"},{"x":1684,"b":-4.7,"a":-3.4,"s":"d"},{"x":1722,"b":-4.7,"a":-3.4,"s":"m"},{"x":1755,"b":-4.7,"a":-3.4,"s":"m"}
]},"mark":{"type":"rule","strokeWidth":5},
"encoding":{"x":{"field":"x","type":"quantitative"},"y":{"field":"b","type":"quantitative"},"y2":{"field":"a"},"color":{"field":"s","type":"nominal","legend":null}}},
   {"data":{"values":[{"x":256,"a":113.6,"t":"C"},{"x":383,"a":113.6,"t":"AL"},{"x":529,"a":113.6,"t":"PL"},{"x":1090,"a":113.6,"t":"R"}]},
"mark":{"type":"text","font":"DejaVu Sans","fontSize":54,"align":"center","baseline":"middle","color":"#e2e2e2"},
"encoding":{"x":{"field":"x","type":"quantitative"},"y":{"field":"a","type":"quantitative"},"text":{"field":"t"}}}
  ]}
]},
{"width":221,"height":1536,
 "encoding":{"x":{"field":"x","type":"quantitative","axis":null,"scale":{"domain":[1827,2048],"nice":false,"zero":false}},
  "y":{"field":"y","type":"quantitative","axis":null,"scale":{"domain":[0,1536],"reverse":true,"nice":false,"zero":false}}},
 "layer":[
  {"data":{"values":[
{"x":1827,"x2":2048,"y":0,"y2":48,"t":0},{"x":1827,"x2":2048,"y":48,"y2":96,"t":0.02},{"x":1827,"x2":2048,"y":96,"y2":144,"t":0.05},{"x":1827,"x2":2048,"y":144,"y2":192,"t":0.06},{"x":1827,"x2":2048,"y":192,"y2":240,"t":0.08},{"x":1827,"x2":2048,"y":240,"y2":288,"t":0.1},{"x":1827,"x2":2048,"y":288,"y2":336,"t":0.12},{"x":1827,"x2":2048,"y":336,"y2":384,"t":0.14},{"x":1827,"x2":2048,"y":384,"y2":432,"t":0.17},{"x":1827,"x2":2048,"y":432,"y2":480,"t":0.22},{"x":1827,"x2":2048,"y":480,"y2":528,"t":0.26},{"x":1827,"x2":2048,"y":528,"y2":576,"t":0.31},{"x":1827,"x2":2048,"y":576,"y2":624,"t":0.36},{"x":1827,"x2":2048,"y":624,"y2":672,"t":0.42},{"x":1827,"x2":2048,"y":672,"y2":720,"t":0.46},{"x":1827,"x2":2048,"y":720,"y2":768,"t":0.5},{"x":1827,"x2":2048,"y":768,"y2":816,"t":0.55},{"x":1827,"x2":2048,"y":816,"y2":864,"t":0.6},{"x":1827,"x2":2048,"y":864,"y2":912,"t":0.65},{"x":1827,"x2":2048,"y":912,"y2":960,"t":0.7},{"x":1827,"x2":2048,"y":960,"y2":1008,"t":0.73},{"x":1827,"x2":2048,"y":1008,"y2":1056,"t":0.76},{"x":1827,"x2":2048,"y":1056,"y2":1104,"t":0.78},{"x":1827,"x2":2048,"y":1104,"y2":1152,"t":0.81},{"x":1827,"x2":2048,"y":1152,"y2":1200,"t":0.83},{"x":1827,"x2":2048,"y":1200,"y2":1248,"t":0.86},{"x":1827,"x2":2048,"y":1248,"y2":1296,"t":0.88},{"x":1827,"x2":2048,"y":1296,"y2":1344,"t":0.9},{"x":1827,"x2":2048,"y":1344,"y2":1392,"t":0.92},{"x":1827,"x2":2048,"y":1392,"y2":1440,"t":0.94},{"x":1827,"x2":2048,"y":1440,"y2":1488,"t":0.97},{"x":1827,"x2":2048,"y":1488,"y2":1536,"t":1}
]},"mark":{"type":"rect","strokeWidth":0},"encoding":{"x2":{"field":"x2"},"y2":{"field":"y2"},
"color":{"field":"t","type":"quantitative","legend":null,"scale":{"domain":[0,1],"range":["#5e585b","#bdabb8"]}}}},
  {"data":{"values":[
{"x":1842,"y":343},{"x":1910,"y":343},{"x":1979,"y":343},{"x":2047,"y":343},{"x":1842,"y":412},{"x":1910,"y":412},{"x":1979,"y":412},{"x":2047,"y":412},{"x":1842,"y":480},{"x":1910,"y":480},{"x":1979,"y":480},{"x":2047,"y":480},{"x":1842,"y":548},{"x":1910,"y":548},{"x":1979,"y":548},{"x":2047,"y":548},{"x":1842,"y":614},{"x":1910,"y":614},{"x":1979,"y":614},{"x":2047,"y":614},{"x":1842,"y":682},{"x":1910,"y":682},{"x":1979,"y":682},{"x":2047,"y":682},{"x":1842,"y":751},{"x":1910,"y":751},{"x":1979,"y":751},{"x":2047,"y":751},{"x":1842,"y":819},{"x":1910,"y":819},{"x":1979,"y":819},{"x":2047,"y":819},{"x":1842,"y":888},{"x":1910,"y":888},{"x":1979,"y":888},{"x":2047,"y":888},{"x":1842,"y":956},{"x":1910,"y":956},{"x":1979,"y":956},{"x":2047,"y":956},{"x":1842,"y":1025},{"x":1910,"y":1025},{"x":1979,"y":1025},{"x":2047,"y":1025},{"x":1842,"y":1093},{"x":1910,"y":1093},{"x":1979,"y":1093},{"x":2047,"y":1093},{"x":1842,"y":1161},{"x":1910,"y":1161},{"x":1979,"y":1161},{"x":2047,"y":1161},{"x":1842,"y":1229},{"x":1910,"y":1229},{"x":1979,"y":1229},{"x":2047,"y":1229},{"x":1842,"y":1297},{"x":1910,"y":1297},{"x":1979,"y":1297},{"x":2047,"y":1297},{"x":1842,"y":1366},{"x":1910,"y":1366},{"x":1979,"y":1366},{"x":2047,"y":1366},{"x":1842,"y":1434},{"x":1910,"y":1434},{"x":1979,"y":1434},{"x":2047,"y":1434},{"x":1842,"y":1502},{"x":1910,"y":1502},{"x":1979,"y":1502},{"x":2047,"y":1502}
]},"mark":{"type":"point","shape":"diamond","filled":true,"color":"#ffffff","opacity":0.03,"size":3400,"clip":true}},
  {"data":{"values":[{"x":2040,"x2":2048,"y":0,"y2":1536,"o":0.5},{"x":2036,"x2":2040,"y":0,"y2":1536,"o":0.25},{"x":1827,"x2":2048,"y":0,"y2":4,"o":0.2}]},
   "mark":{"type":"rect","strokeWidth":0,"color":"#2a2428"},"encoding":{"x2":{"field":"x2"},"y2":{"field":"y2"},"opacity":{"field":"o","type":"quantitative","legend":null,"scale":{"domain":[0,1],"range":[0,1]}}}}
 ]}
]}
